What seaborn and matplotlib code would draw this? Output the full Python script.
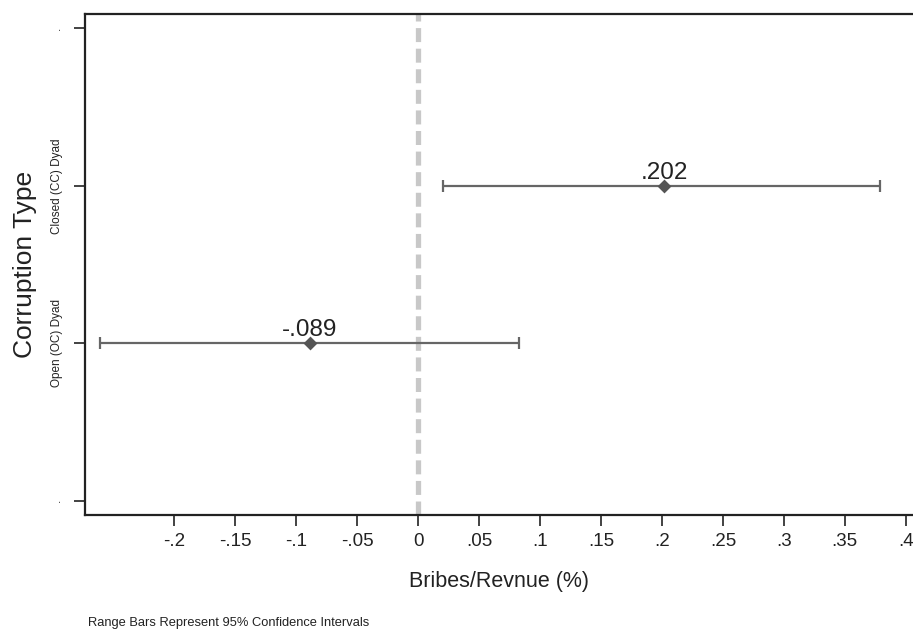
import numpy as np
import pandas as pd
import matplotlib
matplotlib.use('Agg')
import matplotlib.pyplot as plt
import seaborn as sns

# data
groups = ['Open (OC) Dyad', 'Closed (CC) Dyad']
estimates = [-0.089, 0.202]
ci_low = [-0.261, 0.0205]
ci_high = [0.083, 0.379]
labels = ['-.089', '.202']

# y categories, bottom to top
ytick_labels = ['.', 'Open (OC) Dyad', 'Closed (CC) Dyad', '.']
xticks = [-0.2, -0.15, -0.1, -0.05, 0, 0.05, 0.1, 0.15, 0.2, 0.25, 0.3, 0.35, 0.4]
xtick_labels = ['-.2', '-.15', '-.1', '-.05', '0', '.05', '.1', '.15', '.2', '.25', '.3', '.35', '.4']

sns.set_style('white')
plt.rcParams['font.family'] = ['Liberation Sans', 'DejaVu Sans']

df = pd.DataFrame({'group': groups, 'est': estimates, 'lo': ci_low, 'hi': ci_high})
df['ypos'] = [ytick_labels.index(g) for g in df['group']]

fig = plt.figure(figsize=(9.13, 6.29), dpi=100)
ax = fig.add_axes([0.0931, 0.1812, 0.9069, 0.7965])

# reference line at zero
ax.axvline(0, color='#c8c8c8', lw=3.8, ls=(0, (2.65, 1.25)), zorder=1)

# 95% range bars + point estimates
ax.errorbar(df['est'], df['ypos'],
            xerr=[df['est'] - df['lo'], df['hi'] - df['est']],
            fmt='none', ecolor='#666666', elinewidth=1.6, capsize=4.5,
            capthick=1.6, zorder=2)
sns.scatterplot(data=df, x='est', y='ypos', marker='D', s=50,
                color='#555555', linewidth=0, ax=ax, zorder=3,
                legend=False)
for x, y, t in zip(df['est'], df['ypos'], labels):
    ax.text(x, y + 0.045, t, ha='center', va='baseline', fontsize=17.5,
            color='#222222')

ax.set_xlim(-0.2734, 0.406)
ax.set_ylim(-0.09, 3.09)
ax.set_xticks(xticks)
ax.set_xticklabels(xtick_labels, fontsize=13.5)
ax.set_yticks(range(len(ytick_labels)))
ax.set_yticklabels(ytick_labels, fontsize=8.5, rotation=90, va='center')

ax.tick_params(axis='both', direction='out', length=8, width=1.2,
               color='#222222', left=True, bottom=True, labelcolor='#222222')
ax.tick_params(axis='x', pad=5)
ax.tick_params(axis='y', pad=8)
for s in ['left', 'bottom', 'top']:
    ax.spines[s].set_color('#222222')
    ax.spines[s].set_linewidth(1.6)
ax.spines['right'].set_visible(False)

ax.set_xlabel('Bribes/Revnue (%)', fontsize=15.5, labelpad=15, color='#222222')
ax.set_ylabel('Corruption Type', fontsize=19, labelpad=10, color='#222222')

fig.text(0.0964, 0.004, 'Range Bars Represent 95% Confidence Intervals',
         fontsize=9.3, color='#222222')

fig.savefig('out.png', dpi=100)
